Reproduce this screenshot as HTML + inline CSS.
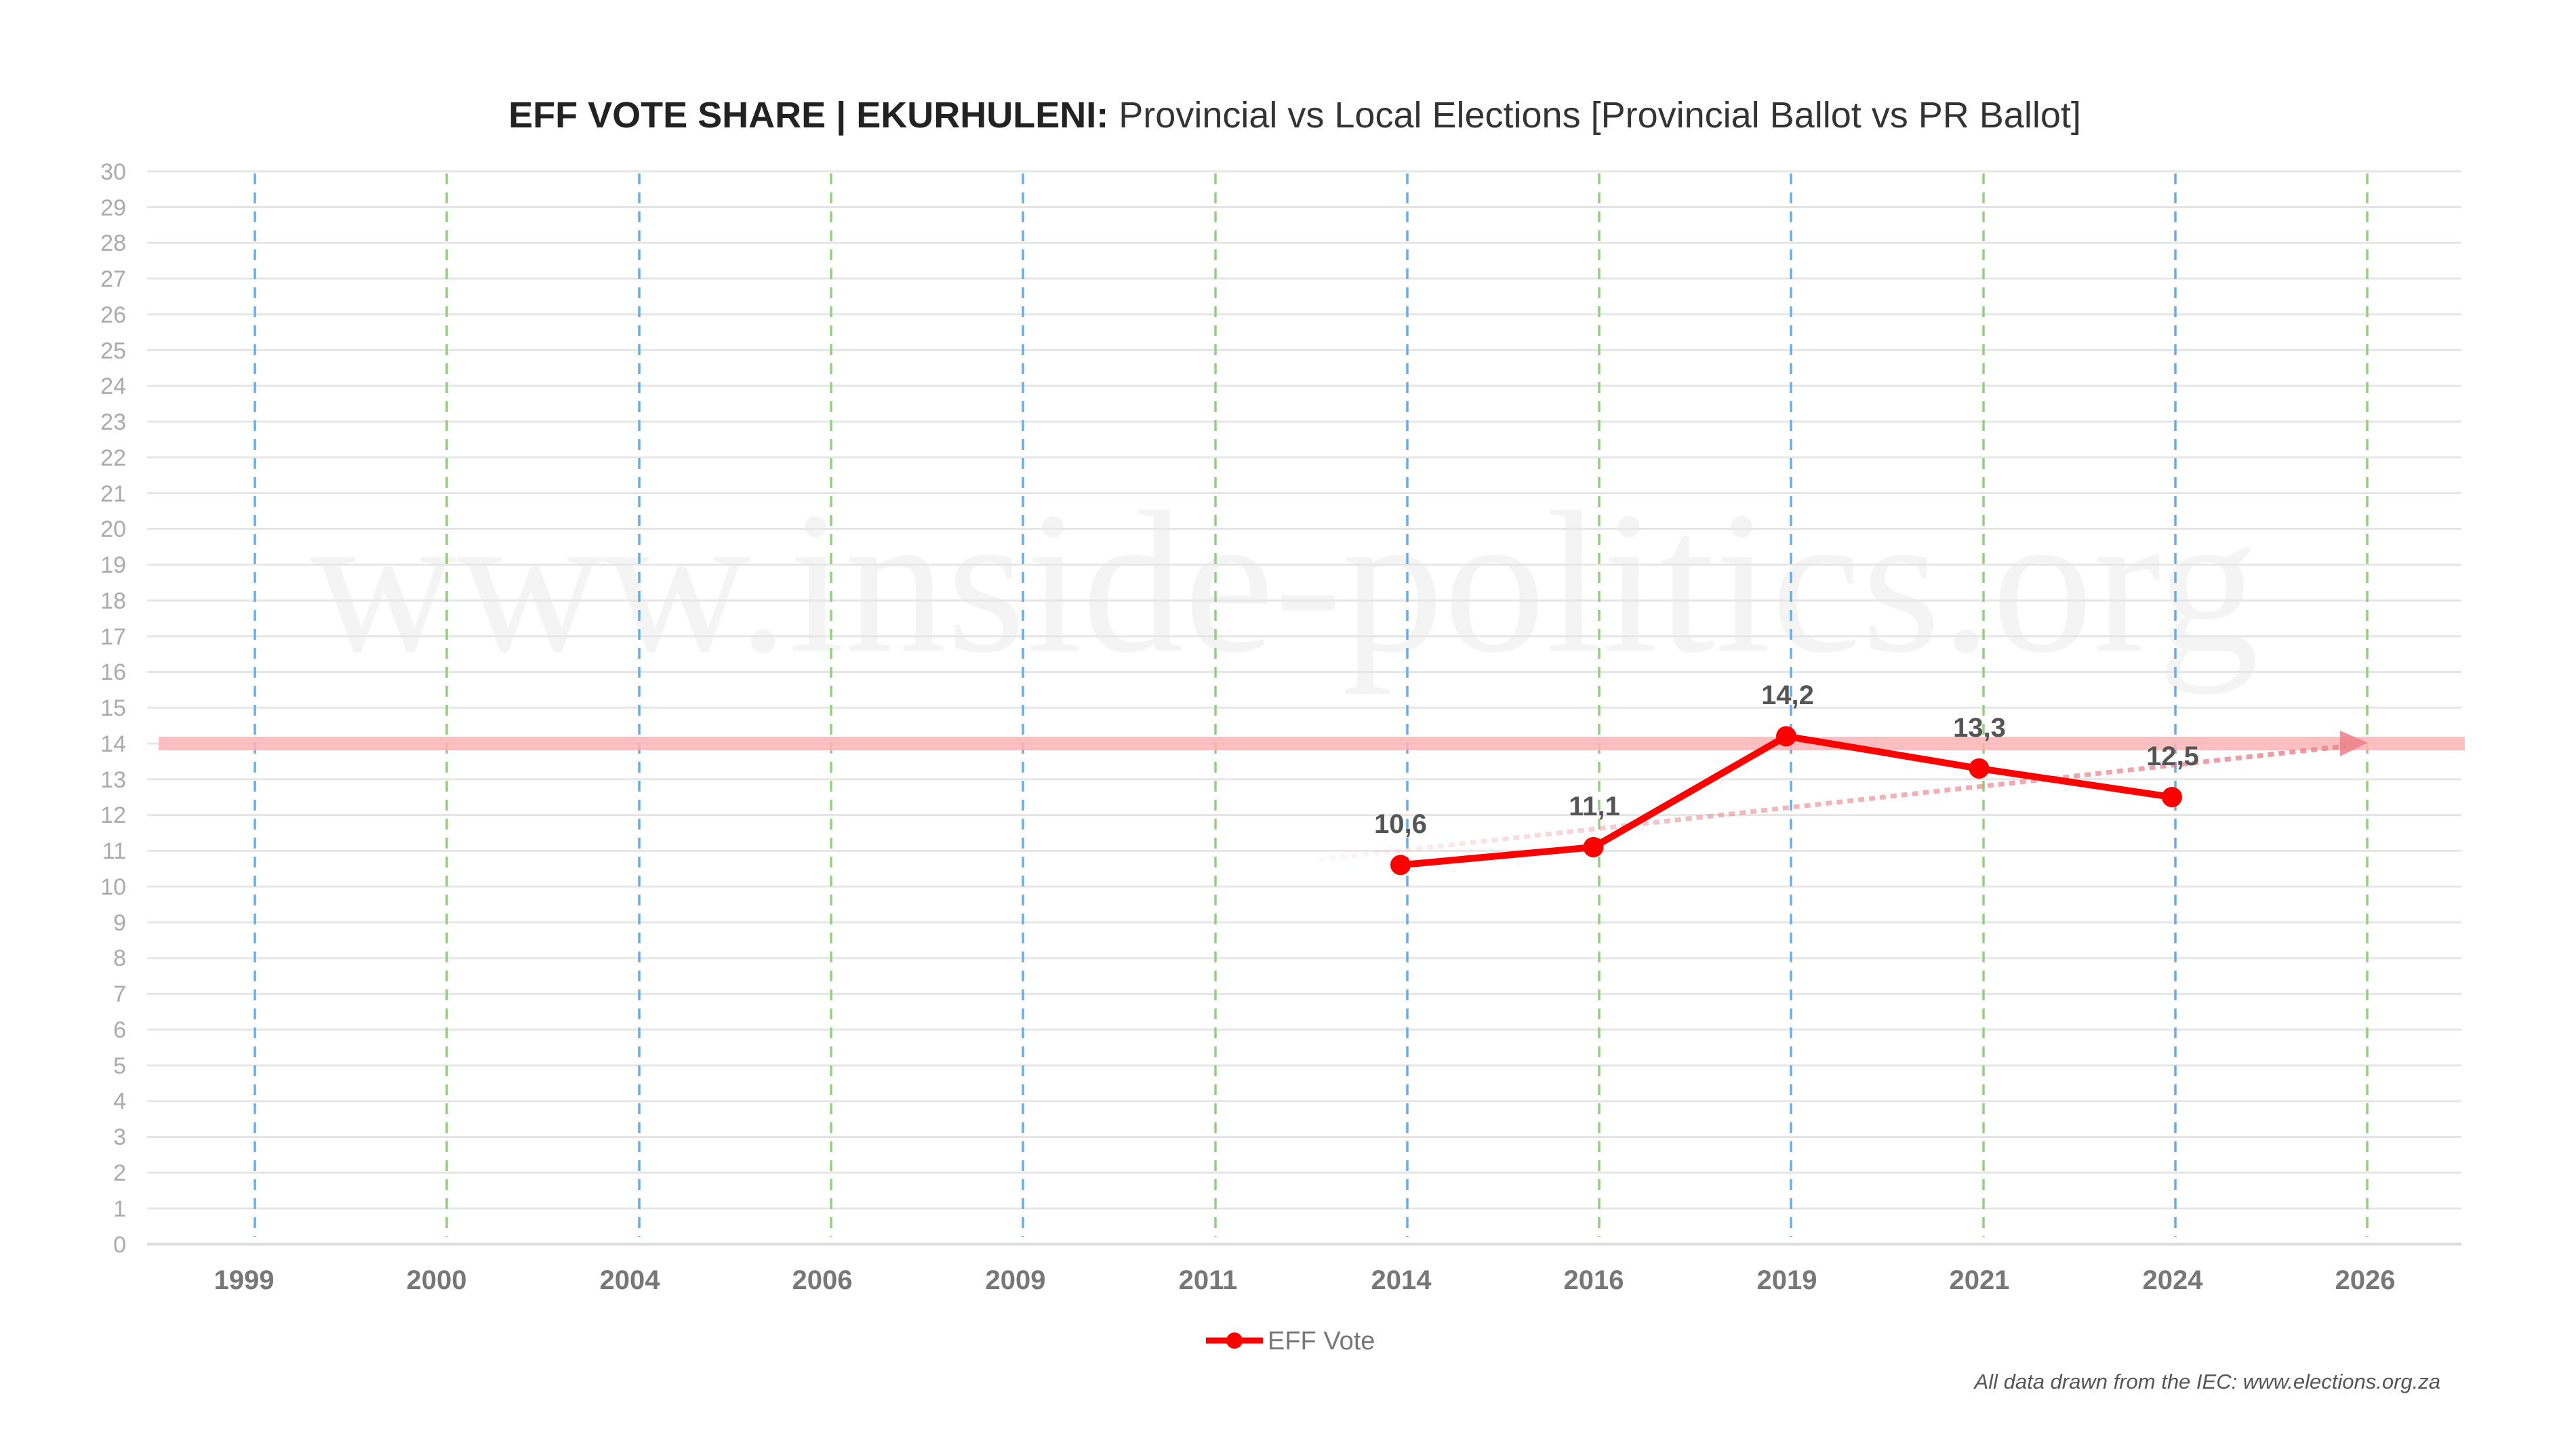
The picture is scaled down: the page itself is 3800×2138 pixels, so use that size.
<!DOCTYPE html>
<html><head><meta charset="utf-8"><style>
html,body{margin:0;padding:0;background:#fff;}
svg{display:block;font-family:"Liberation Sans",sans-serif;}
</style></head><body>
<svg width="3800" height="2138" viewBox="0 0 3800 2138" xmlns="http://www.w3.org/2000/svg">
<defs>
<linearGradient id="tg" x1="1946" y1="0" x2="3490" y2="0" gradientUnits="userSpaceOnUse">
<stop offset="0" stop-color="#f2b8bd" stop-opacity="0.1"/>
<stop offset="0.35" stop-color="#e89098" stop-opacity="0.6"/>
<stop offset="1" stop-color="#e8838c" stop-opacity="0.85"/>
</linearGradient>
</defs>
<rect width="3800" height="2138" fill="#fff"/>
<text x="1910" y="188" text-anchor="middle" font-size="54" fill="#333"><tspan font-weight="bold" fill="#222">EFF VOTE SHARE | EKURHULENI:</tspan> Provincial vs Local Elections [Provincial Ballot vs PR Ballot]</text>
<text x="1895" y="960" text-anchor="middle" font-family="Liberation Serif,serif" font-size="300" fill="#f4f4f4">www.inside-politics.org</text>
<g stroke="#e6e6e6" stroke-width="3">
<line x1="217" x2="3631" y1="252.7" y2="252.7"/><line x1="217" x2="3631" y1="305.5" y2="305.5"/><line x1="217" x2="3631" y1="358.2" y2="358.2"/><line x1="217" x2="3631" y1="411" y2="411"/><line x1="217" x2="3631" y1="463.8" y2="463.8"/><line x1="217" x2="3631" y1="516.6" y2="516.6"/><line x1="217" x2="3631" y1="569.3" y2="569.3"/><line x1="217" x2="3631" y1="622.1" y2="622.1"/><line x1="217" x2="3631" y1="674.9" y2="674.9"/><line x1="217" x2="3631" y1="727.6" y2="727.6"/><line x1="217" x2="3631" y1="780.4" y2="780.4"/><line x1="217" x2="3631" y1="833.2" y2="833.2"/><line x1="217" x2="3631" y1="886" y2="886"/><line x1="217" x2="3631" y1="938.7" y2="938.7"/><line x1="217" x2="3631" y1="991.5" y2="991.5"/><line x1="217" x2="3631" y1="1044.3" y2="1044.3"/><line x1="217" x2="3631" y1="1097" y2="1097"/><line x1="217" x2="3631" y1="1149.8" y2="1149.8"/><line x1="217" x2="3631" y1="1202.6" y2="1202.6"/><line x1="217" x2="3631" y1="1255.4" y2="1255.4"/><line x1="217" x2="3631" y1="1308.1" y2="1308.1"/><line x1="217" x2="3631" y1="1360.9" y2="1360.9"/><line x1="217" x2="3631" y1="1413.7" y2="1413.7"/><line x1="217" x2="3631" y1="1466.4" y2="1466.4"/><line x1="217" x2="3631" y1="1519.2" y2="1519.2"/><line x1="217" x2="3631" y1="1572" y2="1572"/><line x1="217" x2="3631" y1="1624.8" y2="1624.8"/><line x1="217" x2="3631" y1="1677.5" y2="1677.5"/><line x1="217" x2="3631" y1="1730.3" y2="1730.3"/><line x1="217" x2="3631" y1="1783.1" y2="1783.1"/>
<line x1="217" x2="3631" y1="1835.7" y2="1835.7" stroke="#ddd" stroke-width="4"/>
</g>
<g font-size="34" fill="#aaa" text-anchor="end">
<text x="186" y="265">30</text><text x="186" y="318">29</text><text x="186" y="370">28</text><text x="186" y="423">27</text><text x="186" y="476">26</text><text x="186" y="529">25</text><text x="186" y="581">24</text><text x="186" y="634">23</text><text x="186" y="687">22</text><text x="186" y="740">21</text><text x="186" y="792">20</text><text x="186" y="845">19</text><text x="186" y="898">18</text><text x="186" y="951">17</text><text x="186" y="1003">16</text><text x="186" y="1056">15</text><text x="186" y="1109">14</text><text x="186" y="1162">13</text><text x="186" y="1214">12</text><text x="186" y="1267">11</text><text x="186" y="1320">10</text><text x="186" y="1373">9</text><text x="186" y="1425">8</text><text x="186" y="1478">7</text><text x="186" y="1531">6</text><text x="186" y="1584">5</text><text x="186" y="1636">4</text><text x="186" y="1689">3</text><text x="186" y="1742">2</text><text x="186" y="1795">1</text><text x="186" y="1848">0</text>
</g>
<g stroke-width="3.5" stroke-dasharray="16 12">
<line x1="376" x2="376" y1="256" y2="1825" stroke="#6aaee0"/>
<line x1="659" x2="659" y1="256" y2="1825" stroke="#92d07e"/>
<line x1="943" x2="943" y1="256" y2="1825" stroke="#6aaee0"/>
<line x1="1226" x2="1226" y1="256" y2="1825" stroke="#92d07e"/>
<line x1="1509" x2="1509" y1="256" y2="1825" stroke="#6aaee0"/>
<line x1="1793" x2="1793" y1="256" y2="1825" stroke="#92d07e"/>
<line x1="2076" x2="2076" y1="256" y2="1825" stroke="#6aaee0"/>
<line x1="2359" x2="2359" y1="256" y2="1825" stroke="#92d07e"/>
<line x1="2642" x2="2642" y1="256" y2="1825" stroke="#6aaee0"/>
<line x1="2926" x2="2926" y1="256" y2="1825" stroke="#92d07e"/>
<line x1="3209" x2="3209" y1="256" y2="1825" stroke="#6aaee0"/>
<line x1="3492" x2="3492" y1="256" y2="1825" stroke="#92d07e"/>
</g>
<rect x="234" y="1087" width="3402" height="20" fill="#fbb4b6" opacity="0.85"/>
<line x1="1946" y1="1268" x2="3460" y2="1101" stroke="url(#tg)" stroke-width="7" stroke-dasharray="9 7"/>
<polygon points="3493,1096 3452,1078 3452,1116" fill="#ec7f89" opacity="0.85"/>
<polyline points="2066,1276.3 2350.5,1250 2635,1086.4 2919.5,1133.9 3204,1176.1" fill="none" stroke="#ff0000" stroke-width="10" stroke-linejoin="round"/>
<g fill="#ff0000">
<circle cx="2066" cy="1276.3" r="15"/><circle cx="2350.5" cy="1250" r="15"/><circle cx="2635" cy="1086.4" r="15"/><circle cx="2919.5" cy="1133.9" r="15"/><circle cx="3204" cy="1176.1" r="15"/>
</g>
<g font-size="40" font-weight="bold" fill="#555" text-anchor="middle">
<text x="2066" y="1229">10,6</text><text x="2352" y="1203">11,1</text><text x="2637" y="1039">14,2</text><text x="2920" y="1087">13,3</text><text x="3205" y="1129">12,5</text>
</g>
<g font-size="40" font-weight="bold" fill="#777" text-anchor="middle">
<text x="360" y="1902">1999</text><text x="644" y="1902">2000</text><text x="929" y="1902">2004</text><text x="1213" y="1902">2006</text><text x="1498" y="1902">2009</text><text x="1782" y="1902">2011</text><text x="2067" y="1902">2014</text><text x="2351" y="1902">2016</text><text x="2636" y="1902">2019</text><text x="2920" y="1902">2021</text><text x="3205" y="1902">2024</text><text x="3489" y="1902">2026</text>
</g>
<line x1="1779" x2="1863" y1="1978" y2="1978" stroke="#ff0000" stroke-width="9"/>
<circle cx="1821" cy="1978" r="12" fill="#ff0000"/>
<text x="1870" y="1991" font-size="38" fill="#777">EFF Vote</text>
<text x="3600" y="2049" font-size="31" font-style="italic" fill="#555" text-anchor="end">All data drawn from the IEC: www.elections.org.za</text>
</svg>
</body></html>
